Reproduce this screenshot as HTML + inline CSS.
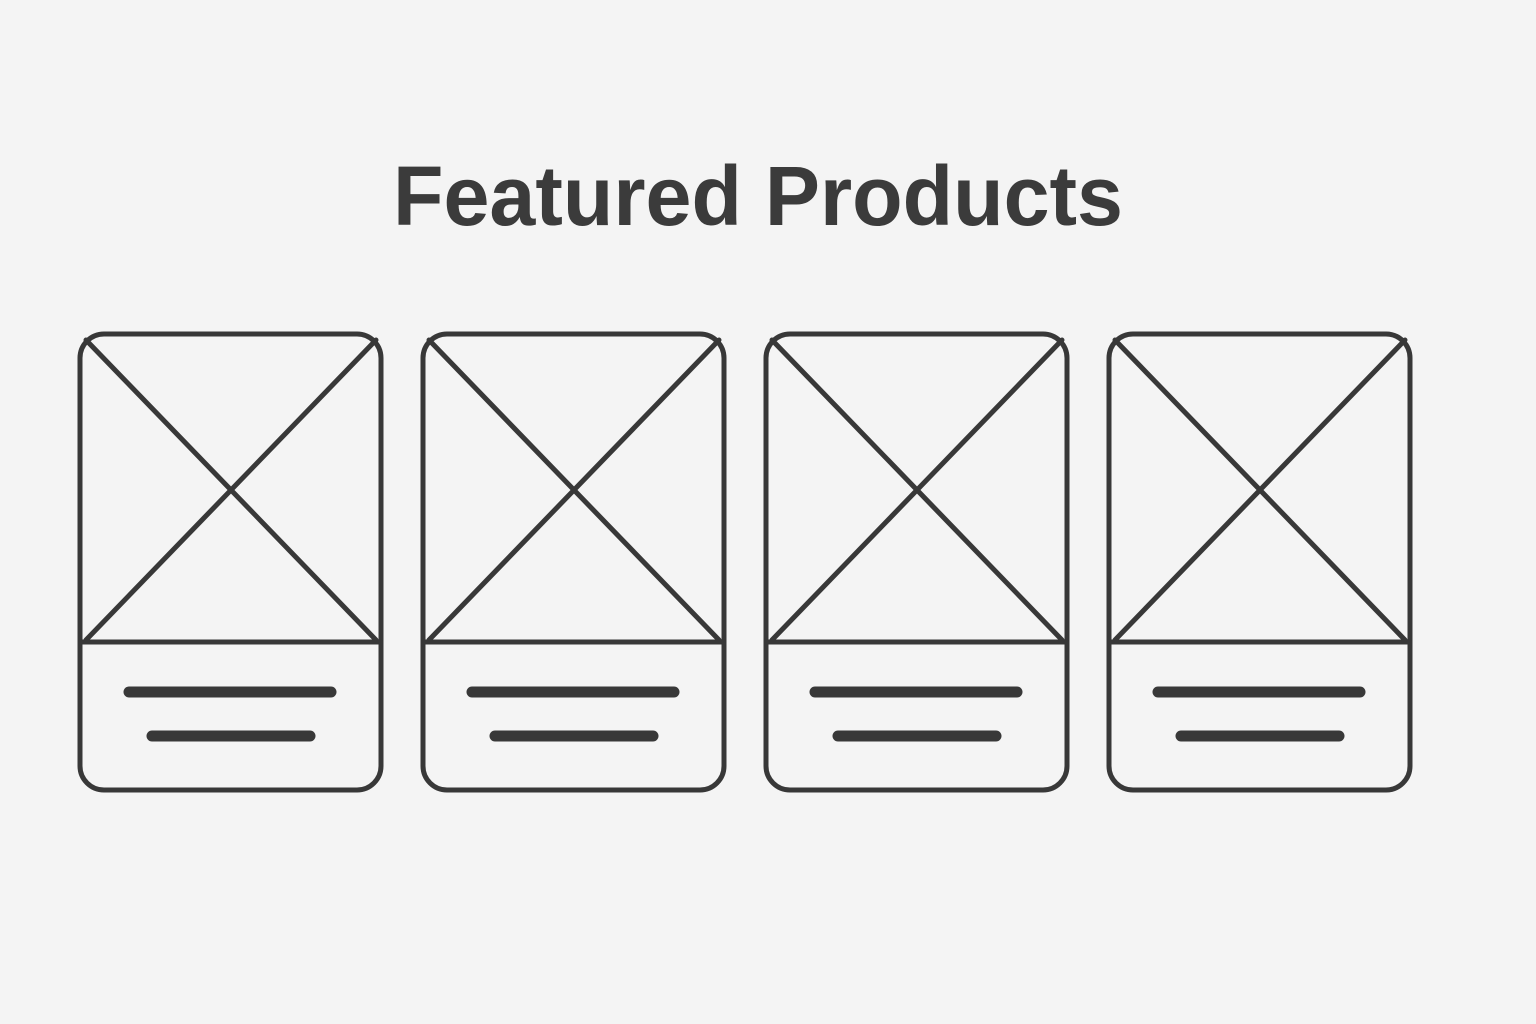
<!DOCTYPE html>
<html><head><meta charset="utf-8"><style>
html,body{margin:0;padding:0;background:#f4f4f4;}
svg{display:block}
</style></head><body>
<svg width="1536" height="1024" viewBox="0 0 1536 1024" xmlns="http://www.w3.org/2000/svg">
<rect width="1536" height="1024" fill="#f4f4f4"/>
<text x="393" y="225" font-family="Liberation Sans, sans-serif" font-weight="bold" font-size="84" fill="#3b3b3b" textLength="730" lengthAdjust="spacingAndGlyphs">Featured Products</text>
<g fill="none" stroke="#383838" stroke-width="5" stroke-linecap="round">
<g>
<rect x="80" y="334" width="301" height="456" rx="24"/>
<line x1="86" y1="340" x2="376" y2="640"/><line x1="376" y1="340" x2="86" y2="640"/>
<line x1="80" y1="642" x2="381" y2="642"/>
<line x1="129" y1="692" x2="331" y2="692" stroke-width="11"/>
<line x1="152" y1="736" x2="310" y2="736" stroke-width="11"/>
</g>
<g transform="translate(343,0)">
<rect x="80" y="334" width="301" height="456" rx="24"/>
<line x1="86" y1="340" x2="376" y2="640"/><line x1="376" y1="340" x2="86" y2="640"/>
<line x1="80" y1="642" x2="381" y2="642"/>
<line x1="129" y1="692" x2="331" y2="692" stroke-width="11"/>
<line x1="152" y1="736" x2="310" y2="736" stroke-width="11"/>
</g>
<g transform="translate(686,0)">
<rect x="80" y="334" width="301" height="456" rx="24"/>
<line x1="86" y1="340" x2="376" y2="640"/><line x1="376" y1="340" x2="86" y2="640"/>
<line x1="80" y1="642" x2="381" y2="642"/>
<line x1="129" y1="692" x2="331" y2="692" stroke-width="11"/>
<line x1="152" y1="736" x2="310" y2="736" stroke-width="11"/>
</g>
<g transform="translate(1029,0)">
<rect x="80" y="334" width="301" height="456" rx="24"/>
<line x1="86" y1="340" x2="376" y2="640"/><line x1="376" y1="340" x2="86" y2="640"/>
<line x1="80" y1="642" x2="381" y2="642"/>
<line x1="129" y1="692" x2="331" y2="692" stroke-width="11"/>
<line x1="152" y1="736" x2="310" y2="736" stroke-width="11"/>
</g>
</g>
</svg>
</body></html>
